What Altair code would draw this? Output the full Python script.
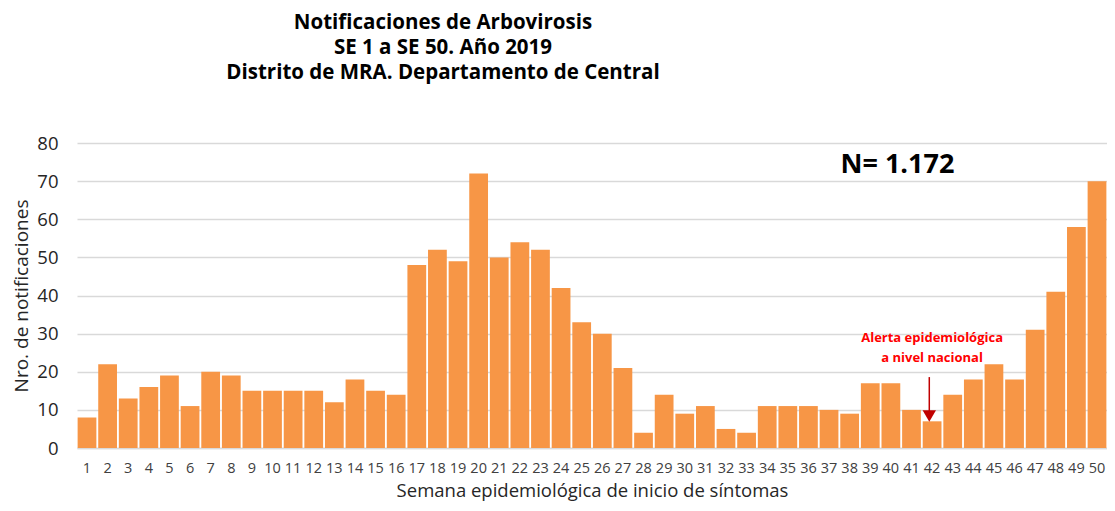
import altair as alt
import pandas as pd

weeks = [str(i) for i in range(1, 51)]
values = [8, 22, 13, 16, 19, 11, 20, 19, 15, 15,
          15, 15, 12, 18, 15, 14, 48, 52, 49, 72,
          50, 54, 52, 42, 33, 30, 21, 4, 14, 9,
          11, 5, 4, 11, 11, 11, 10, 9, 17, 17,
          10, 7, 14, 18, 22, 18, 31, 41, 58, 70]

title_lines = ["Notificaciones de Arbovirosis",
               "SE 1 a SE 50. Año 2019",
               "Distrito de MRA. Departamento de Central"]
title_y = [-114, -89, -64]

alert_lines = ["Alerta epidemiológica", "a nivel nacional"]
alert_y = [28.9, 23.6]

FONT = "Open Sans"
W, H = 1030, 305
df = pd.DataFrame({"week": weeks, "n": values})

xscale = alt.Scale(domain=weeks, paddingInner=0.09, paddingOuter=0.03)
yscale = alt.Scale(domain=[0, 80])

xaxis = alt.Axis(title="Semana epidemiológica de inicio de síntomas",
                 labelAngle=0, labelFontSize=14.5, labelColor="#404040",
                 labelFont=FONT, labelPadding=13, ticks=False,
                 domainColor="#D9D9D9", domainWidth=1.5, grid=False,
                 titleFont=FONT, titleFontSize=18.5, titleFontWeight="normal",
                 titleColor="#262626", titleY=42, titleBaseline="middle")
yaxis = alt.Axis(title="Nro. de notificaciones", values=[0, 10, 20, 30, 40, 50, 60, 70, 80],
                 labelOverlap=False, grid=True,
                 labelFontSize=18.5, labelColor="#262626", labelFont=FONT,
                 labelPadding=19, ticks=False, domain=False,
                 gridColor="#D9D9D9", gridWidth=1.5,
                 titleFont=FONT, titleFontSize=19, titleFontWeight="normal",
                 titleColor="#262626", titleX=-56, titleBaseline="middle")

bars = alt.Chart(df).mark_bar(color="#F79646").encode(
    x=alt.X("week:N", scale=xscale, sort=weeks, axis=xaxis),
    y=alt.Y("n:Q", scale=yscale, axis=yaxis),
)

tdf = pd.DataFrame({"t": title_lines, "y": title_y})
titles = alt.Chart(tdf).mark_text(font=FONT, fontSize=20.5, fontWeight="bold",
                                  color="#000000", baseline="alphabetic").encode(
    x=alt.value(366), y=alt.Y("y:Q", scale=None), text="t:N")

ndf = pd.DataFrame({"week": ["40"], "n": [74.2], "t": ["N= 1.172"]})
ntext = alt.Chart(ndf).mark_text(font=FONT, fontSize=27, fontWeight="bold",
                                 color="#000000", baseline="middle").encode(
    x=alt.X("week:N", scale=xscale, bandPosition=0.85, axis=xaxis),
    y=alt.Y("n:Q", scale=yscale, axis=yaxis), text="t:N")

adf = pd.DataFrame({"week": ["42", "42"], "n": alert_y, "t": alert_lines})
atext = alt.Chart(adf).mark_text(font=FONT, fontSize=13, fontWeight="bold",
                                 color="#FF0000", baseline="middle").encode(
    x=alt.X("week:N", scale=xscale, bandPosition=0.5, axis=xaxis),
    y=alt.Y("n:Q", scale=yscale, axis=yaxis), text="t:N")

rdf = pd.DataFrame({"week": ["42"], "n": [18.6], "n2": [9.5]})
arrow = alt.Chart(rdf).mark_rule(color="#C00000", strokeWidth=1.5).encode(
    x=alt.X("week:N", scale=xscale, bandPosition=0.35, axis=xaxis),
    y=alt.Y("n:Q", scale=yscale, axis=yaxis), y2="n2:Q")

hdf = pd.DataFrame({"week": ["42"], "n": [8.4]})
head = alt.Chart(hdf).mark_point(shape="triangle-down", filled=True, color="#C00000",
                                 size=180, opacity=1).encode(
    x=alt.X("week:N", scale=xscale, bandPosition=0.35, axis=xaxis),
    y=alt.Y("n:Q", scale=yscale, axis=yaxis))

chart = alt.layer(bars, titles, ntext, atext, arrow, head).properties(
    width=W, height=H,
    autosize=alt.AutoSizeParams(type="none"),
    padding={"left": 69, "top": 135, "right": 0, "bottom": 55},
).configure_view(stroke=None)

chart.save("out.html", embed_options={"renderer": "svg", "actions": False})
